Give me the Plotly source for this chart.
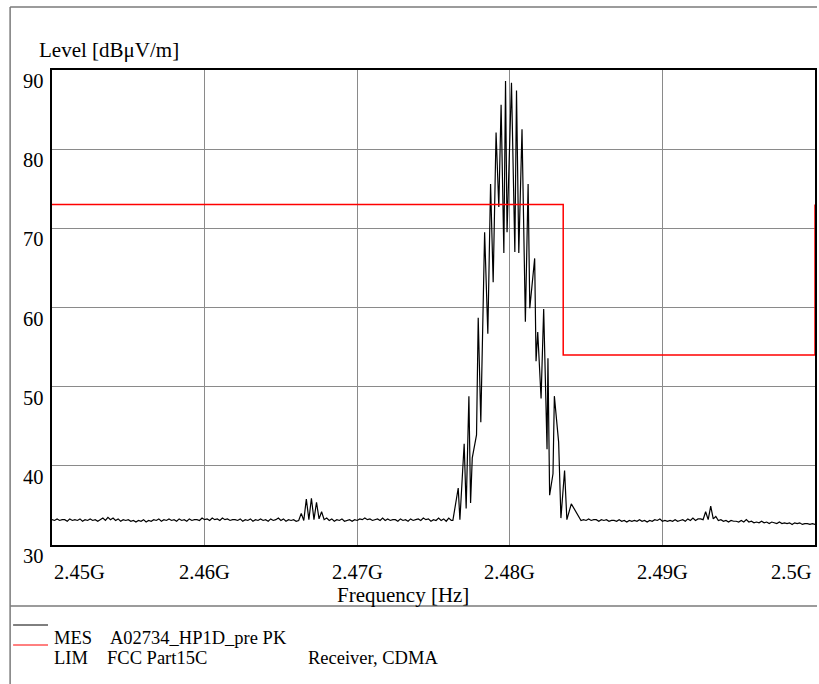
import plotly.graph_objects as go

# ---------------- data ----------------
# Measurement trace (MES), levels in dBuV/m.
# Noise-floor segments are sampled on a 1/6 MHz grid; peak vertices listed explicitly.
left_floor_start_mhz = 2450.0
left_floor_levels = [
    33.2, 33.1, 33.3, 33.1, 33.2, 33.2, 33.0, 33.3, 33.1, 33.2,
    33.1, 33.3, 33.0, 33.2, 33.1, 33.3, 33.1, 33.2, 33.0, 33.2,
    33.4, 33.1, 33.5, 33.2, 33.4, 33.1, 33.3, 33.0, 33.2, 33.1,
    33.2, 33.0, 33.1, 32.9, 33.1, 33.0, 33.2, 32.9, 33.1, 33.0,
    33.2, 33.1, 33.3, 33.0, 33.2, 33.1, 33.3, 33.1, 33.2, 33.0,
    33.3, 33.1, 33.2, 33.0, 33.3, 33.1, 33.2, 33.2, 33.1, 33.4,
    33.2, 33.3, 33.1, 33.4, 33.2, 33.3, 33.1, 33.4, 33.2, 33.3,
    33.1, 33.2, 33.2, 33.1, 33.3, 33.0, 33.2, 33.1, 33.3, 33.0,
    33.2, 33.1, 33.3, 33.1, 33.2, 33.0, 33.3, 33.1, 33.2, 33.4,
    33.1, 33.3, 33.0, 33.2, 33.1, 33.2, 33.0, 33.1, 34.0, 33.1,
    35.8, 33.2, 35.9, 33.2, 35.4, 33.3, 34.2, 33.2, 33.4, 33.1,
    33.3, 33.0, 33.2, 33.1, 33.3, 33.0, 33.1, 33.2, 33.0, 33.2,
    33.1, 33.3, 33.2, 33.4, 33.2, 33.3, 33.1, 33.2, 33.3, 33.1,
    33.4, 33.1, 33.3, 33.1, 33.2, 33.2, 33.0, 33.3, 33.1, 33.2,
    33.0, 33.3, 33.1, 33.2, 33.3, 33.1, 33.4, 33.2, 33.3, 33.0,
    33.2, 33.1, 33.4, 33.1, 33.3, 33.0, 33.4, 33.1,
]

peak_freq_mhz = [
    2476.27, 2476.62, 2476.73, 2477.01, 2477.14, 2477.32, 2477.43, 2477.54,
    2477.82, 2477.93, 2478.10, 2478.35, 2478.56, 2478.74, 2478.91, 2479.10,
    2479.28, 2479.43, 2479.61, 2479.72, 2479.82, 2480.11, 2480.33, 2480.44,
    2480.59, 2480.80, 2481.02, 2481.20, 2481.31, 2481.63, 2481.72, 2481.83,
    2482.05, 2482.22, 2482.44, 2482.50, 2482.61, 2482.83, 2482.92, 2483.20,
    2483.35, 2483.59, 2483.74, 2484.03,
]
peak_levels = [
    33.1, 37.2, 33.2, 42.8, 34.6, 48.8, 35.3, 41.0,
    43.9, 58.7, 45.5, 69.5, 56.7, 75.6, 63.2, 82.1,
    72.7, 85.6, 66.9, 88.6, 69.5, 88.4, 67.0, 87.4,
    66.9, 82.5, 58.2, 75.6, 59.9, 66.2, 53.2, 56.9,
    48.5, 59.8, 42.1, 53.6, 36.3, 39.0, 48.8, 43.0,
    33.4, 39.4, 33.2, 35.2,
]

right_floor_start_mhz = 2484.0 + 4.0 / 6.0
right_floor_levels = [
    33.1, 33.2, 33.1, 33.3, 33.1, 33.2, 33.2, 33.0, 33.2, 33.1,
    33.2, 33.0, 33.1, 33.1, 33.0, 33.2, 33.0, 33.1, 32.9, 33.1,
    33.0, 33.1, 33.0, 33.2, 33.0, 33.1, 32.9, 33.1, 33.0, 33.2,
    33.1, 33.3, 33.0, 33.1, 33.0, 33.1, 33.0, 33.2, 33.0, 33.1,
    33.2, 33.0, 33.3, 33.1, 33.4, 33.1, 33.3, 33.3, 33.2, 34.2,
    33.2, 34.9, 33.3, 33.6, 33.1, 33.2, 33.0, 33.1, 32.9, 33.1,
    33.0, 33.0, 32.9, 33.1, 32.9, 33.2, 32.9, 33.0, 32.8, 32.9,
    32.8, 33.0, 32.8, 32.9, 32.7, 32.9, 32.8, 32.7, 32.9, 32.7,
    32.8, 32.7, 32.8, 32.6, 32.8, 32.7, 32.8, 32.6, 32.7, 32.7,
    32.6, 32.7, 32.6,
]
floor_step_mhz = 1.0 / 6.0

# Limit line (LIM FCC Part15C)
limit_freq_mhz = [2450.0, 2483.5, 2483.5, 2500.0, 2500.0]
limit_levels = [73.0, 73.0, 54.0, 54.0, 73.0]

# Axes
x_range_mhz = [2450.0, 2500.0]
y_range = [30, 90]
x_grid_mhz = [2460.0, 2470.0, 2480.0, 2490.0]
y_grid = [40, 50, 60, 70, 80]
x_tick_mhz = [2450.0, 2460.0, 2470.0, 2480.0, 2490.0, 2500.0]
x_tick_labels = ["2.45G", "2.46G", "2.47G", "2.48G", "2.49G", "2.5G"]
y_tick_vals = [30, 40, 50, 60, 70, 80, 90]
y_tick_labels = ["30", "40", "50", "60", "70", "80", "90"]

# ---------------- build series ----------------
left_freq = [left_floor_start_mhz + i * floor_step_mhz for i in range(len(left_floor_levels))]
right_freq = [right_floor_start_mhz + i * floor_step_mhz for i in range(len(right_floor_levels))]
mes_freq_hz = [f * 1e6 for f in left_freq + peak_freq_mhz + right_freq]
mes_levels = left_floor_levels + peak_levels + right_floor_levels
lim_freq_hz = [f * 1e6 for f in limit_freq_mhz]

# ---------------- layout geometry ----------------
W_PX, H_PX = 819, 684
L, R, T, B = 52, 817, 70, 545
PW, PH = R - L, B - T

def pxx(px):
    return (px - L) / PW

def pxy(py):
    return (B - py) / PH

FONT = "Liberation Serif, Times New Roman, serif"

fig = go.Figure()
fig.add_trace(go.Scatter(x=mes_freq_hz, y=mes_levels, mode="lines",
                         line=dict(color="black", width=1.2), showlegend=False,
                         name="MES"))
fig.add_trace(go.Scatter(x=lim_freq_hz, y=limit_levels, mode="lines",
                         line=dict(color="#ff0000", width=1.5), showlegend=False,
                         name="LIM"))

fig.update_layout(
    width=W_PX, height=H_PX,
    margin=dict(l=L, r=W_PX - R, t=T, b=H_PX - B, pad=0),
    paper_bgcolor="white", plot_bgcolor="white",
    font=dict(family=FONT, color="black", size=20),
    xaxis=dict(range=[x_range_mhz[0] * 1e6, x_range_mhz[1] * 1e6],
               tickvals=[v * 1e6 for v in x_grid_mhz], showticklabels=False,
               ticks="", showgrid=True, gridcolor="#8a8a8a", gridwidth=1,
               zeroline=False, showline=True, mirror=True,
               linecolor="black", linewidth=1.5),
    yaxis=dict(range=y_range, tickvals=y_grid, showticklabels=False,
               ticks="", showgrid=True, gridcolor="#8a8a8a", gridwidth=1,
               zeroline=False, showline=True, mirror=True,
               linecolor="black", linewidth=1.5),
)

ann = []
# x tick labels
for v, lab in zip(x_tick_mhz, x_tick_labels):
    if v == x_tick_mhz[0]:
        xa, xs = "left", 0
    elif v == x_tick_mhz[-1]:
        xa, xs = "right", -1
    else:
        xa, xs = "center", 0
    ann.append(dict(x=v * 1e6, xref="x", y=0, yref="paper", text=lab,
                    showarrow=False, xanchor=xa, yanchor="middle",
                    xshift=xs, yshift=-27, font=dict(size=20.5)))
# y tick labels
for v, lab in zip(y_tick_vals, y_tick_labels):
    ann.append(dict(x=0, xref="paper", y=v, yref="y", text=lab,
                    showarrow=False, xanchor="right", yanchor="middle",
                    xshift=-6, yshift=-11, font=dict(size=20.5)))
# axis titles
ann.append(dict(x=pxx(37), xref="paper", y=pxy(50), yref="paper",
                text="Level [dBμV/m]", showarrow=False, xanchor="left",
                yanchor="middle", font=dict(size=21)))
ann.append(dict(x=pxx(404), xref="paper", y=pxy(595), yref="paper",
                text="Frequency [Hz]", showarrow=False, xanchor="center",
                yanchor="middle", font=dict(size=21)))
# legend text
legend_items = [
    (52, 638, "MES"), (108, 638, "A02734_HP1D_pre PK"),
    (52, 658, "LIM"), (105, 658, "FCC Part15C"), (307, 658, "Receiver, CDMA"),
]
for x0, y0, t in legend_items:
    ann.append(dict(x=pxx(x0), xref="paper", y=pxy(y0), yref="paper", text=t,
                    showarrow=False, xanchor="left", yanchor="middle",
                    font=dict(size=18.5)))
fig.update_layout(annotations=ann)

shapes = []
frame_col = "#7a7a7a"
# outer frame: top, left, separator
shapes.append(dict(type="line", xref="paper", yref="paper", x0=pxx(10), x1=pxx(819),
                   y0=pxy(7), y1=pxy(7), line=dict(color=frame_col, width=1.5)))
shapes.append(dict(type="line", xref="paper", yref="paper", x0=pxx(10), x1=pxx(10),
                   y0=pxy(7), y1=pxy(684), line=dict(color=frame_col, width=1.5)))
shapes.append(dict(type="line", xref="paper", yref="paper", x0=pxx(10), x1=pxx(819),
                   y0=pxy(606), y1=pxy(606), line=dict(color=frame_col, width=1.5)))
# legend line samples
shapes.append(dict(type="line", xref="paper", yref="paper", x0=pxx(13), x1=pxx(48),
                   y0=pxy(625), y1=pxy(625), line=dict(color="black", width=1)))
shapes.append(dict(type="line", xref="paper", yref="paper", x0=pxx(13), x1=pxx(48),
                   y0=pxy(645), y1=pxy(645), line=dict(color="#ff0000", width=1)))
fig.update_layout(shapes=shapes)

fig.write_html("out.html",
               config={"displayModeBar": False},
               post_script="document.body.style.margin='0';document.body.style.padding='0';document.body.style.overflow='hidden';")
